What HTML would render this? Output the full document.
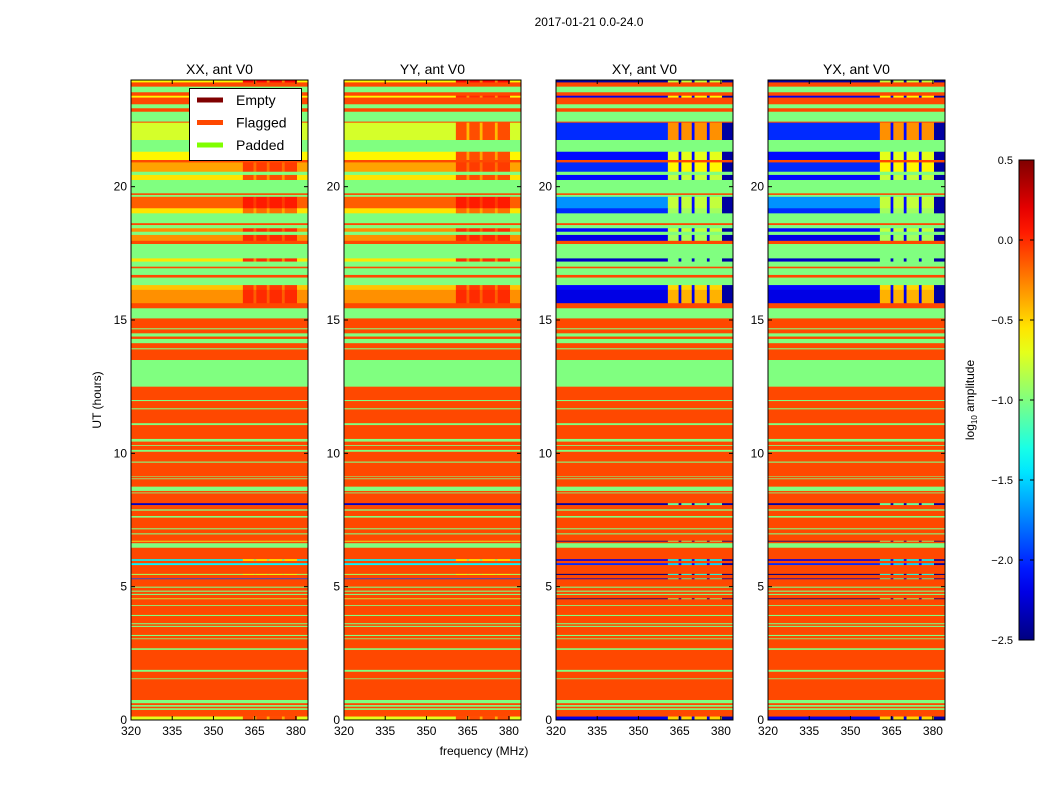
<!DOCTYPE html>
<html><head><meta charset="utf-8"><style>
html,body{margin:0;padding:0;background:#fff;}
svg{display:block;font-family:"Liberation Sans","DejaVu Sans",sans-serif;}
</style></head><body>
<svg id="fig" width="1050" height="800" viewBox="0 0 1050 800" xmlns="http://www.w3.org/2000/svg">
<text x="589" y="26" font-size="12" text-anchor="middle">2017-01-21 0.0-24.0</text>
<text x="484" y="755" font-size="12" text-anchor="middle">frequency (MHz)</text>
<text transform="translate(101,400) rotate(-90)" font-size="12" text-anchor="middle">UT (hours)</text>
<text transform="translate(974,400) rotate(-90)" font-size="12" text-anchor="middle">log<tspan font-size="8" dy="3">10</tspan><tspan dy="-3"> amplitude</tspan></text>
<g id="panels"></g>
<g id="cbar"></g>
</svg>
<script>
// ---- data ----
const panelTitles = ["XX, ant V0","YY, ant V0","XY, ant V0","YX, ant V0"];
const panelIsCross = [false,false,true,true];
const xTicks = [320,335,350,365,380];
const yTicks = [0,5,10,15,20];
const cbarTicks = [0.5,0.0,-0.5,-1.0,-1.5,-2.0,-2.5];
// time bands (hours), kind F=flagged P=padded D=data
const bandStart = [23.91,23.75,23.54,23.41,23.34,23.09,22.94,22.81,22.44,22.40,21.75,21.31,21.00,20.91,20.56,20.44,20.25,19.75,19.69,19.62,19.19,19.00,18.63,18.56,18.44,18.31,18.19,17.97,17.85,17.31,17.19,17.00,16.94,16.69,16.59,16.31,16.13,15.63,15.44,15.06,
 14.69,14.65,14.50,14.38,14.29,14.13,13.94,13.90,13.50,12.50,12.00,11.96,11.69,11.65,11.13,11.06,10.54,10.44,10.31,10.28,10.13,10.06,9.69,9.65,9.15,9.13,9.06,9.03,8.75,8.59,8.53,8.50,8.13,8.06,7.90,7.85,7.65,7.59,7.19,7.15,7.00,6.96,6.72,6.69,6.63,6.46,6.03,5.97,5.88,5.81,5.48,5.44,5.31,5.28,5.00,4.96,4.85,4.81,4.73,4.69,4.56,4.53,4.31,4.28,3.94,3.90,3.63,3.59,3.53,3.49,3.19,3.15,3.06,3.03,2.69,2.63,1.88,1.81,1.56,1.53,0.75,0.63,0.56,0.50,0.44,0.38,0.13,0.00];
const bandEnd = [24.00,23.91,23.75,23.54,23.41,23.34,23.09,22.94,22.81,22.44,22.40,21.75,21.31,21.00,20.91,20.56,20.44,20.25,19.75,19.69,19.62,19.19,19.00,18.63,18.56,18.44,18.31,18.19,17.97,17.85,17.31,17.19,17.00,16.94,16.69,16.59,16.31,16.13,15.63,15.44,
 15.06,14.69,14.65,14.50,14.38,14.29,14.13,13.94,13.90,13.50,12.50,12.00,11.96,11.69,11.65,11.13,11.06,10.54,10.44,10.31,10.28,10.13,10.06,9.69,9.65,9.15,9.13,9.06,9.03,8.75,8.59,8.53,8.50,8.13,8.06,7.90,7.85,7.65,7.59,7.19,7.15,7.00,6.96,6.72,6.69,6.63,6.46,6.03,5.97,5.88,5.81,5.48,5.44,5.31,5.28,5.00,4.96,4.85,4.81,4.73,4.69,4.56,4.53,4.31,4.28,3.94,3.90,3.63,3.59,3.53,3.49,3.19,3.15,3.06,3.03,2.69,2.63,1.88,1.81,1.56,1.53,0.75,0.63,0.56,0.50,0.44,0.38,0.13];
const bandKind = ["D","F","P","F","D","F","P","F","P","F","D","P","D","F","D","P","D","P","F","P","D","D","P","F","P","D","P","D","F","P","D","P","F","P","F","P","D","D","F","P",
 "F","P","F","P","F","P","F","P","F","P",
 "F","P","F","P","F","P","F","P","F","P",
 "F","P","F","P","F","P","F","P","F","P",
 "F","P","F","D","F","P","F","P","F","P",
 "F","P","F","D","F","P","F","D","F","D",
 "F","D","F","D","F","P","F","P","F","P",
 "F","D","F","P","F","P","F","P","F","P",
 "F","P","F","P","F","P","F","P","F","P",
 "F","P","F","P","F","P","F","D"];
// values (log10 amplitude), one per D band in order (top to bottom)
const autoLeft   = [-0.6,-0.6,-0.75,-0.6,-0.35,-0.55,-0.15,-0.55,-0.3,-0.3,-0.55,-0.45,-0.3, -2.3,-0.7,-1.4,-1.4,-0.9,-1.9,-0.8,-0.7];
const autoBlock  = [0.1,0.0,-0.1,-0.1,-0.05,-0.1,0.05,-0.2,0.0,0.0,0.0,-0.05,0.0, -2.3,-0.7,-0.6,-1.4,-0.7,-1.9,-0.8,-0.1];
const crossLeft  = [-2.4,-2.2,-2.0,-2.1,-2.0,-2.1,-1.7,-2.0,-2.1,-2.2,-2.3,-2.1,-2.2, -2.4,-2.5,-2.2,-2.0,-2.5,-2.3,-2.5,-2.2];
const crossBlock = [-0.8,-0.6,-0.3,-0.7,-0.6,-0.8,-0.8,-0.9,-0.8,-0.9,-1.0,-0.5,-0.4, -1.1,-1.0,-1.4,-1.5,-1.3,-1.2,-1.0,-0.5];
// frequency segments (MHz)
const segStart = [320,360.7,364.6,365.6,369.4,370.4,374.9,375.9,380.4];
const segEnd   = [360.7,364.6,365.6,369.4,370.4,374.9,375.9,380.4,384.4];
const segKind  = ["L","B","S","B","S","B","S","B","R"];
const legendLabels = ["Empty","Flagged","Padded"];
const legendColors = ["#800000","#ff4800","#80ff00"];

// ---- geometry ----
const panelX = [131,344,556,768], panelW = 177, panelTop = 80, panelBot = 720;
const fMin = 320, fMax = 384.4, tMin = 0, tMax = 24, vMin = -2.5, vMax = 0.5;
const FLAG = "#ff4800", PAD = "#80ff80";
function xs(p,f){return panelX[p] + (f-fMin)/(fMax-fMin)*panelW;}
function ys(t){return panelBot - (t-tMin)/(tMax-tMin)*(panelBot-panelTop);}
function jet(v){
  let t=(v-vMin)/(vMax-vMin); if(!(t>=0))t=0; t=Math.min(1,t);
  const c=x=>Math.round(255*Math.max(0,Math.min(1,x)));
  return `rgb(${c(1.5-Math.abs(4*t-3))},${c(1.5-Math.abs(4*t-2))},${c(1.5-Math.abs(4*t-1))})`;
}
const NS="http://www.w3.org/2000/svg";
function mk(tag,attrs,parent){const e=document.createElementNS(NS,tag);for(const k in attrs)e.setAttribute(k,attrs[k]);parent.appendChild(e);return e;}
const G=document.getElementById("panels");
for(let p=0;p<4;p++){
  const g=mk("g",{},G);
  
  
  const cross=panelIsCross[p];
  let d=-1;
  for(let i=0;i<bandStart.length;i++){
    const y1=ys(bandEnd[i]), y2=ys(bandStart[i]);
    const k=bandKind[i];
    if(k!=="D"){
      const r=mk("rect",{x:panelX[p],y:y1,width:panelW,height:y2-y1+0.3,fill:k==="F"?FLAG:PAD},g);
      
      
      continue;
    }
    d++;
    for(let s=0;s<segStart.length;s++){
      let v; const sk=segKind[s];
      if(!cross){
        v = sk==="L"||sk==="R" ? autoLeft[d] : sk==="B" ? autoBlock[d] : (autoBlock[d]+autoLeft[d])/2;
      } else {
        v = sk==="L" ? crossLeft[d] : sk==="B" ? crossBlock[d] : sk==="S" ? Math.min(crossLeft[d],-2.1) : Math.min(crossLeft[d],-2.4);
      }
      const x1=xs(p,segStart[s]), x2=xs(p,segEnd[s]);
      const r=mk("rect",{x:x1,y:y1,width:x2-x1+0.3,height:y2-y1+0.3,fill:jet(v)},g);
      
      
    }
  }
  const fr=mk("rect",{x:panelX[p],y:panelTop,width:panelW,height:panelBot-panelTop,fill:"none",stroke:"#000","stroke-width":1},g);
  
  
  const tt=mk("text",{x:panelX[p]+panelW/2,y:74,"font-size":14,"text-anchor":"middle"},g);
  tt.textContent=panelTitles[p];
  
  
  xTicks.forEach(f=>{
    const x=xs(p,f);
    mk("line",{x1:x,x2:x,y1:panelBot,y2:panelBot-4,stroke:"#000"},g);
    mk("line",{x1:x,x2:x,y1:panelTop,y2:panelTop+4,stroke:"#000"},g);
    const t=mk("text",{x:x,y:735,"font-size":12,"text-anchor":"middle"},g);
    t.textContent=f;
    
    
  });
  yTicks.forEach(h=>{
    const y=ys(h);
    mk("line",{x1:panelX[p],x2:panelX[p]+4,y1:y,y2:y,stroke:"#000"},g);
    mk("line",{x1:panelX[p]+panelW,x2:panelX[p]+panelW-4,y1:y,y2:y,stroke:"#000"},g);
    const t=mk("text",{x:panelX[p]-4,y:y+4,"font-size":12,"text-anchor":"end"},g);
    t.textContent=h;
    
    
  });
}
// legend
const svg=document.getElementById("fig");
const lg=mk("g",{},svg);


mk("rect",{x:189.5,y:88.5,width:112,height:72,fill:"#fff",stroke:"#000"},lg);
legendLabels.forEach((l,i)=>{
  const y=100+i*22.5;
  const e=mk("g",{},lg);
  
  
  mk("line",{x1:197,x2:223,y1:y,y2:y,stroke:legendColors[i],"stroke-width":5},e);
  const t=mk("text",{x:236,y:y+5,"font-size":14},e);
  t.textContent=l;
});
// colorbar
const cb=document.getElementById("cbar");


const cbX=1019,cbW=15,cbT=160,cbB=640;
const defs=mk("defs",{},cb);
const grad=mk("linearGradient",{id:"jetg",x1:0,y1:1,x2:0,y2:0},defs);
for(let i=0;i<=20;i++){mk("stop",{offset:i/20,"stop-color":jet(vMin+(vMax-vMin)*i/20)},grad);}
mk("rect",{x:cbX,y:cbT,width:cbW,height:cbB-cbT,fill:"url(#jetg)",stroke:"#000"},cb);
cbarTicks.forEach(v=>{
  const y=cbB-(v-vMin)/(vMax-vMin)*(cbB-cbT);
  mk("line",{x1:cbX+cbW,x2:cbX+cbW-4,y1:y,y2:y,stroke:"#000"},cb);
  mk("line",{x1:cbX,x2:cbX+4,y1:y,y2:y,stroke:"#000"},cb);
  const t=mk("text",{x:cbX-6,y:y+4,"font-size":11,"text-anchor":"end"},cb);
  t.textContent=v.toFixed(1).replace('-','\u2212');
  
  
});
</script>
</body></html>
